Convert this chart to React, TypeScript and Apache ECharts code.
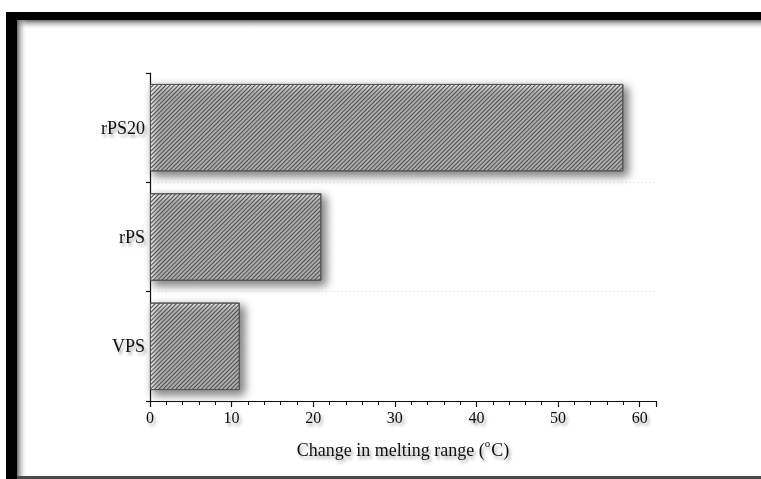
import React, { useEffect, useRef } from "react";
import * as echarts from "echarts";

const categories = ["VPS", "rPS", "rPS20"];
const values = [11, 21, 58];
const xTicks = [0, 10, 20, 30, 40, 50, 60];

const FONT = '"Liberation Serif", "DejaVu Serif", serif';
const textShadow = {
  textShadowColor: "rgba(0,0,0,0.35)",
  textShadowBlur: 3,
  textShadowOffsetX: 2,
  textShadowOffsetY: 3,
};

export default function App() {
  const ref = useRef<HTMLDivElement>(null);
  useEffect(() => {
    document.body.style.margin = "0";
    document.documentElement.style.overflow = "hidden";
    const chart = echarts.init(ref.current!, null, { renderer: "svg" });
    chart.setOption({
      animation: false,
      backgroundColor: "#ffffff",
      graphic: {
        elements: [
          { type: "rect", z: -100, silent: true, shape: { x: 6, y: 12, width: 755, height: 8 }, style: { fill: "#000" } },
          { type: "rect", z: -100, silent: true, shape: { x: 6, y: 12, width: 11, height: 467 }, style: { fill: "#000" } },
          {
            type: "rect", z: -98, silent: true, shape: { x: 17, y: 20, width: 744, height: 10 },
            style: { fill: new echarts.graphic.LinearGradient(0, 0, 0, 1, [{ offset: 0, color: "rgba(90,90,90,0.9)" }, { offset: 1, color: "rgba(255,255,255,0)" }]) },
          },
          {
            type: "rect", z: -98, silent: true, shape: { x: 17, y: 20, width: 10, height: 457 },
            style: { fill: new echarts.graphic.LinearGradient(0, 0, 1, 0, [{ offset: 0, color: "rgba(90,90,90,0.9)" }, { offset: 1, color: "rgba(255,255,255,0)" }]) },
          },
          { type: "rect", z: -97, silent: true, shape: { x: 17, y: 476, width: 744, height: 3 }, style: { fill: "#4a4a4a" } },
        ],
      },
      grid: { left: 150, top: 73, bottom: 78, right: 105, containLabel: false },
      xAxis: [
        {
          type: "value",
          min: 0,
          max: 62,
          interval: 10,
          position: "bottom",
          axisLine: { show: true, lineStyle: { color: "#111", width: 1.2 } },
          axisTick: { show: true, length: 6, lineStyle: { color: "#111", width: 1.2 } },
          splitLine: { show: false },
          axisLabel: {
            fontFamily: FONT,
            fontSize: 16,
            color: "#111",
            margin: 8,
            ...textShadow,
            formatter: (v: number) => (xTicks.includes(v) ? String(v) : ""),
          },
          name: "{t|Change in melting range (}{sup|o}{t|C)}",
          nameLocation: "middle",
          nameGap: 36,
          nameTextStyle: {
            fontFamily: FONT,
            fontSize: 18,
            color: "#111",
            ...textShadow,
            rich: {
              t: { fontFamily: FONT, fontSize: 18, color: "#111", lineHeight: 22, verticalAlign: "bottom", ...textShadow },
              sup: { fontFamily: FONT, fontSize: 11, color: "#111", lineHeight: 22, verticalAlign: "top", padding: [0, 1, 0, 0], ...textShadow },
            },
          },
        },
        {
          type: "value",
          min: 0,
          max: 62,
          interval: 2,
          position: "bottom",
          axisLine: { show: false },
          axisTick: { show: true, length: 4, lineStyle: { color: "#111", width: 1 } },
          axisLabel: { show: false },
          splitLine: { show: false },
        },
      ],
      yAxis: {
        type: "category",
        data: categories,
        axisLine: { show: true, lineStyle: { color: "#111", width: 1.2 } },
        axisTick: { show: true, length: 4, lineStyle: { color: "#111", width: 1.2 } },
        axisLabel: { fontFamily: FONT, fontSize: 18, color: "#111", margin: 5, ...textShadow },
        splitLine: {
          show: true,
          showMinLine: false,
          showMaxLine: false,
          lineStyle: { color: "#dcdcdc", type: [1, 3], width: 1 },
        },
      },
      series: [
        {
          type: "bar",
          xAxisIndex: 0,
          data: values,
          barCategoryGap: "20%",
          itemStyle: {
            color: "#ffffff",
            borderColor: "#555",
            borderWidth: 1,
            shadowColor: "rgba(0,0,0,0.22)",
            shadowBlur: 10,
            shadowOffsetX: 4,
            shadowOffsetY: 4,
            decal: {
              symbol: "rect",
              dashArrayX: [1, 0],
              dashArrayY: [1, 2],
              rotation: -Math.PI / 4,
              color: "#4a4a4a",
              symbolSize: 1,
            },
          },
        },
      ],
    });
    return () => chart.dispose();
  }, []);
  return <div ref={ref} style={{ width: 761, height: 479, position: "fixed", left: 0, top: 0 }} />;
}
